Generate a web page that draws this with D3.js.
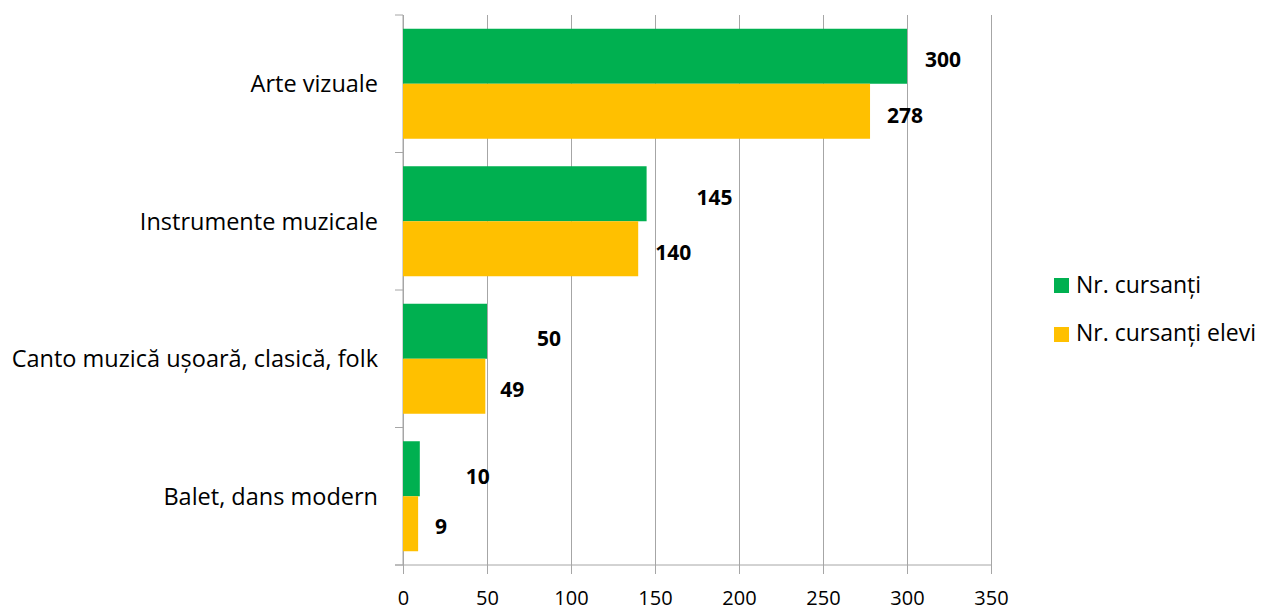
<!DOCTYPE html>
<html><head><meta charset="utf-8">
<script src="https://cdn.jsdelivr.net/npm/d3@7"></script>
<style>
html,body{margin:0;padding:0;background:#fff;}
svg{display:block;font-family:"Open Sans",Lato,sans-serif;}
</style></head>
<body>
<svg id="chart" width="1262" height="612"></svg>
<script>
const categories = ["Arte vizuale", "Instrumente muzicale", "Canto muzică ușoară, clasică, folk", "Balet, dans modern"];
const seriesNames = ["Nr. cursanți", "Nr. cursanți elevi"];
const cursanti = [300, 145, 50, 10];
const cursantiElevi = [278, 140, 49, 9];
const xTicks = [0, 50, 100, 150, 200, 250, 300, 350];
const colors = ["#00B050", "#FFC000"];

const svg = d3.select("#chart");
const m = {left: 403, right: 991, top: 15, bottom: 565};
const x = d3.scaleLinear().domain([0, 350]).range([m.left, m.right]);
const y = d3.scaleBand().domain(categories).range([m.top, m.bottom]).paddingInner(0.2).paddingOuter(0.1);
const ys = d3.scaleBand().domain(seriesNames).range([0, y.bandwidth()]);
const grid = "#a6a6a6";

// vertical gridlines + x axis
const xAxis = d3.axisBottom(x).tickValues(xTicks).tickSize(9).tickFormat(d3.format("d"));
const gx = svg.append("g").attr("transform", `translate(0,${m.bottom})`).call(xAxis);
gx.select(".domain").remove();
gx.selectAll(".tick line").attr("stroke", grid).attr("y1", -(m.bottom - m.top));
gx.selectAll(".tick text").attr("y", 40).attr("dy", 0)
  .attr("font-size", 20).attr("fill", "#000").attr("font-family", "Open Sans");
svg.append("line").attr("x1", m.left - 8).attr("x2", m.right).attr("y1", m.bottom).attr("y2", m.bottom).attr("stroke", grid);

// y axis with category boundary ticks
const yTickPos = d3.range(categories.length + 1).map(i => m.top + i * (m.bottom - m.top) / categories.length);
svg.append("line").attr("x1", m.left).attr("x2", m.left).attr("y1", m.top).attr("y2", m.bottom).attr("stroke", grid);
svg.selectAll(".ytick").data(yTickPos).join("line")
  .attr("x1", m.left - 8).attr("x2", m.left).attr("y1", d => d).attr("y2", d => d).attr("stroke", grid);

// category labels
svg.selectAll(".cat").data(categories).join("text")
  .attr("x", m.left - 25).attr("y", d => y(d) + y.bandwidth() / 2 + 8.5)
  .attr("text-anchor", "end")
  .attr("font-size", 23.5).attr("fill", "#000").text(d => d);

// bars
const seriesData = [cursanti, cursantiElevi];
seriesData.forEach((vals, si) => {
  svg.selectAll(".bar" + si).data(vals).join("rect")
    .attr("x", x(0)).attr("y", (d, i) => y(categories[i]) + ys(seriesNames[si]))
    .attr("width", d => x(d) - x(0)).attr("height", ys.bandwidth())
    .attr("fill", colors[si]);
});

// data labels (offsets mimic the reference's placement)
const labelDx = [[18, 50, 50, 46], [17, 17, 15, 17]];
const labelDy = [[11, 11, 15, 15], [12, 11.5, 10.5, 10.5]];
seriesData.forEach((vals, si) => {
  svg.selectAll(".lab" + si).data(vals).join("text")
    .attr("x", (d, i) => x(d) + labelDx[si][i])
    .attr("y", (d, i) => y(categories[i]) + ys(seriesNames[si]) + ys.bandwidth() / 2 + labelDy[si][i])
    .attr("font-size", 21).attr("font-weight", "bold").attr("fill", "#000")
    .text(d => d);
});

// legend
const lg = svg.append("g").attr("transform", "translate(1054,278)");
seriesNames.forEach((n, i) => {
  lg.append("rect").attr("x", 0).attr("y", i * 49).attr("width", 15).attr("height", 15).attr("fill", colors[i]);
  lg.append("text").attr("x", 22).attr("y", i * 48 + 15)
    .attr("font-size", 23).attr("fill", "#000").text(n);
});
</script>
</body></html>
